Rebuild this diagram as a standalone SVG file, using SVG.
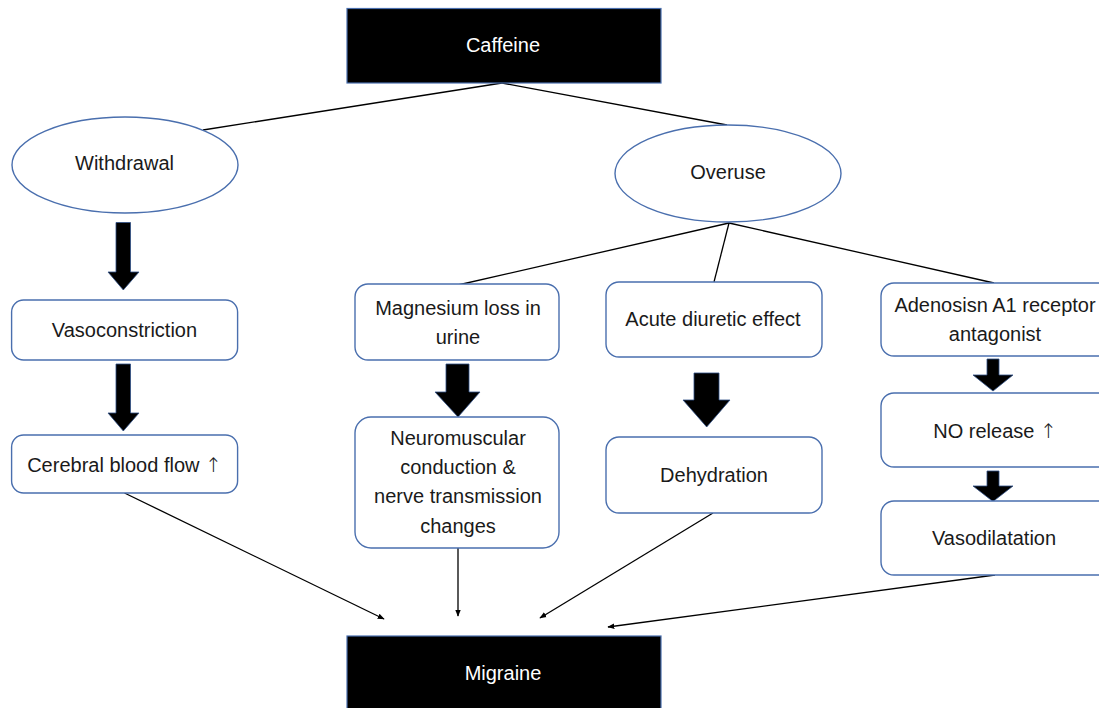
<svg xmlns="http://www.w3.org/2000/svg" width="1099" height="708" viewBox="0 0 1099 708">
<style>
  .box{fill:#fff;stroke:#4a6fae;stroke-width:1.4}
  .dark{fill:#000;stroke:#4a6fae;stroke-width:1.2}
  .t{font-family:"Liberation Sans",Arial,sans-serif;font-size:20px;fill:#1a1a1a;text-anchor:middle}
  .tw{font-family:"Liberation Sans",Arial,sans-serif;font-size:20px;fill:#fff;text-anchor:middle}
  .up{font-family:"DejaVu Sans",sans-serif;font-size:20px;font-weight:300}
  .ln{stroke:#000;stroke-width:1.3;fill:none}
  .blk{fill:#000;stroke:#2f4f86;stroke-width:0.8}
</style>
<defs>
  <marker id="ah" viewBox="0 0 10 10" refX="9" refY="5" markerWidth="7" markerHeight="7" markerUnits="userSpaceOnUse" orient="auto">
    <path d="M0,1 L10,5 L0,9 Z" fill="#000"/>
  </marker>
</defs>
<rect width="1099" height="708" fill="#fff"/>

<g id="connectors">
  <line class="ln" x1="502" y1="83" x2="203" y2="130"/>
  <line class="ln" x1="502" y1="83" x2="727" y2="125"/>
  <line class="ln" x1="729" y1="223" x2="458" y2="285"/>
  <line class="ln" x1="729" y1="223" x2="714" y2="282"/>
  <line class="ln" x1="729" y1="223" x2="994" y2="283"/>
  <line class="ln" x1="124.5" y1="493" x2="384" y2="619" marker-end="url(#ah)"/>
  <line class="ln" x1="458" y1="548" x2="458" y2="616" marker-end="url(#ah)"/>
  <line class="ln" x1="713" y1="513" x2="540" y2="618" marker-end="url(#ah)"/>
  <line class="ln" x1="995" y1="575" x2="608" y2="627" marker-end="url(#ah)"/>
  <polygon class="blk" points="116,222.5 130.5,222.5 130.5,272 139,272 123.3,290 108,272 116,272"/>
  <polygon class="blk" points="116,364 130.5,364 130.5,413 139,413 123.3,431 108,413 116,413"/>
  <polygon class="blk" points="446,364 469,364 469,392 480,392 458,417 435,392 446,392"/>
  <polygon class="blk" points="694,373 719,373 719,400 730,400 706.7,427 683,400 694,400"/>
  <polygon class="blk" points="987,359 999,359 999,375 1013,375 993,391 973,375 987,375"/>
  <polygon class="blk" points="987,471 999,471 999,486 1013,486 993,501.5 973,486 987,486"/>
</g>

<g id="caffeine">
  <rect class="dark" x="347" y="8.5" width="314" height="74.5"/>
  <text class="tw" x="503" y="52">Caffeine</text>
</g>
<g id="withdrawal">
  <ellipse class="box" cx="125" cy="165" rx="113" ry="48"/>
  <text class="t" x="124.5" y="170">Withdrawal</text>
</g>
<g id="overuse">
  <ellipse class="box" cx="728" cy="173.5" rx="113" ry="48.5"/>
  <text class="t" x="728" y="179">Overuse</text>
</g>
<g id="vasoconstriction">
  <rect class="box" x="11.6" y="300" width="226" height="60" rx="12"/>
  <text class="t" x="124.5" y="337">Vasoconstriction</text>
</g>
<g id="cerebral">
  <rect class="box" x="11.6" y="435" width="226" height="58" rx="12"/>
  <text class="t" x="124.5" y="472">Cerebral blood flow <tspan class="up">↑</tspan></text>
</g>
<g id="magnesium">
  <rect class="box" x="355" y="284" width="204" height="76" rx="13"/>
  <text class="t" x="458" y="315">Magnesium loss in</text>
  <text class="t" x="458" y="344">urine</text>
</g>
<g id="neuromuscular">
  <rect class="box" x="355" y="417" width="204" height="131" rx="16"/>
  <text class="t" x="458" y="445">Neuromuscular</text>
  <text class="t" x="458" y="474">conduction &amp;</text>
  <text class="t" x="458" y="503">nerve transmission</text>
  <text class="t" x="458" y="533">changes</text>
</g>
<g id="acute">
  <rect class="box" x="606" y="282" width="216" height="75" rx="13"/>
  <text class="t" x="713" y="326">Acute diuretic effect</text>
</g>
<g id="dehydration">
  <rect class="box" x="606" y="437" width="216" height="76" rx="13"/>
  <text class="t" x="714" y="482">Dehydration</text>
</g>
<g id="adenosine">
  <rect class="box" x="881" y="283" width="230" height="73" rx="13"/>
  <text class="t" x="995" y="312">Adenosisn A1 receptor</text>
  <text class="t" x="995" y="341">antagonist</text>
</g>
<g id="no-release">
  <rect class="box" x="881" y="393" width="230" height="74" rx="13"/>
  <text class="t" x="995" y="438">NO release <tspan class="up">↑</tspan></text>
</g>
<g id="vasodilatation">
  <rect class="box" x="881" y="501" width="230" height="74" rx="13"/>
  <text class="t" x="994" y="545">Vasodilatation</text>
</g>
<g id="migraine">
  <rect class="dark" x="347" y="636" width="314" height="80"/>
  <text class="tw" x="503" y="680">Migraine</text>
</g>
</svg>
